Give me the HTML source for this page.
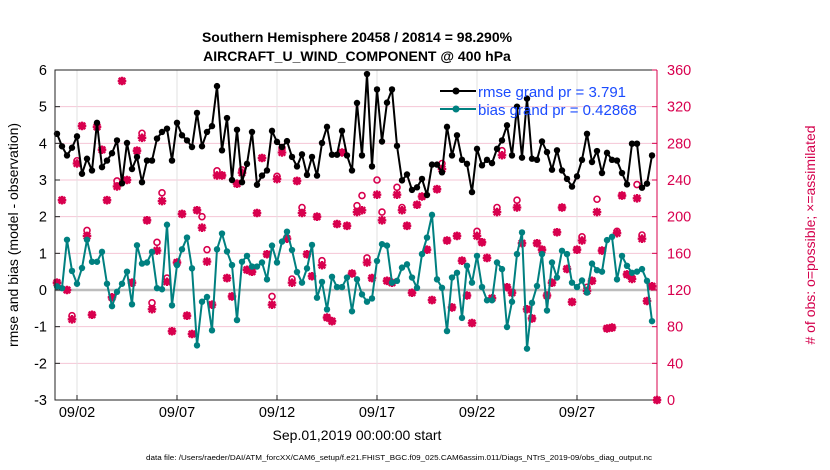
<!DOCTYPE html>
<html><head><meta charset="utf-8"><style>
html,body{margin:0;padding:0;background:#fff;}
svg{display:block;font-family:"Liberation Sans",sans-serif;}
</style></head><body>
<svg id="chart" width="830" height="470" viewBox="0 0 830 470" xmlns="http://www.w3.org/2000/svg">
<text x="357" y="42" text-anchor="middle" font-size="14" font-weight="bold">Southern Hemisphere 20458 / 20814 = 98.290%</text>
<text x="357" y="61" text-anchor="middle" font-size="14" font-weight="bold">AIRCRAFT_U_WIND_COMPONENT @ 400 hPa</text>
<g id="grid"></g>
<g id="marks"></g>
<g id="axes"></g>
<text transform="translate(18,235) rotate(-90)" text-anchor="middle" font-size="14">rmse and bias (model - observation)</text>
<text transform="translate(815,235) rotate(-90)" text-anchor="middle" font-size="14" fill="#d4004c"># of obs: o=possible; ×=assimilated</text>
<text x="357" y="440" text-anchor="middle" font-size="14">Sep.01,2019 00:00:00 start</text>
<text x="146" y="460" font-size="7" textLength="506" lengthAdjust="spacingAndGlyphs">data file: /Users/raeder/DAI/ATM_forcXX/CAM6_setup/f.e21.FHIST_BGC.f09_025.CAM6assim.011/Diags_NTrS_2019-09/obs_diag_output.nc</text>
<g>
<line x1="440" y1="91" x2="476" y2="91" stroke="#000" stroke-width="2"/>
<circle cx="456" cy="91" r="3.5" fill="#000"/>
<text x="478" y="97" font-size="15" fill="#1a4bff">rmse grand pr = 3.791</text>
<line x1="440" y1="109" x2="476" y2="109" stroke="#008080" stroke-width="2"/>
<circle cx="456" cy="109" r="3.5" fill="#008080"/>
<text x="478" y="115" font-size="15" fill="#1a4bff">bias grand pr = 0.42868</text>
</g>
</svg>
<script>
const rmse=[4.26,3.92,3.67,3.88,4.19,3.17,3.58,3.26,4.56,3.35,3.53,3.73,4.08,2.91,4.01,3.30,3.63,2.94,3.53,3.53,4.13,
4.31,4.40,3.53,4.56,4.22,4.08,3.90,4.83,3.92,4.31,4.47,5.56,3.81,4.69,3.00,4.37,2.94,3.44,4.31,2.87,
3.12,3.26,4.34,4.04,3.90,4.06,3.63,3.37,3.70,3.14,3.63,3.12,4.01,4.45,3.69,3.69,4.34,3.67,3.26,5.10,
3.67,5.89,3.37,5.47,4.05,5.11,5.47,3.93,2.99,3.15,2.73,2.80,3.03,2.59,3.42,3.42,3.21,4.45,3.67,4.22,
3.55,3.44,2.67,3.85,3.40,3.55,3.46,3.85,4.08,4.49,3.67,5.0,3.61,5.22,3.58,3.55,4.05,3.76,3.28,3.81,
3.26,3.03,2.82,3.10,3.55,4.26,3.49,3.79,3.19,3.74,3.55,3.53,3.19,2.88,3.99,3.99,2.79,2.90,3.67];
const bias=[0.1,0.05,1.37,0.52,0.17,0.6,1.37,0.77,0.77,1.04,0.17,-0.44,-0.05,0.17,0.5,-0.39,1.22,0.72,0.75,1.04,0.05,
0.02,1.78,-0.42,0.68,1.11,1.43,0.59,-1.51,-0.32,-0.19,-1.10,1.11,1.54,1.05,0.68,-0.82,0.77,0.93,0.64,0.64,
0.75,0.29,1.21,0.75,1.32,1.59,1.09,0.49,0.2,0.59,1.23,-0.21,0.22,-0.53,0.36,0.08,0.08,0.34,-0.58,0.29,
-0.12,-0.32,-0.23,0.79,1.25,1.21,0.2,0.25,0.61,0.70,0.34,0.06,0.98,1.43,2.05,0.29,0.06,-1.12,0.34,0.47,
-0.76,0.66,0.2,0.93,0.08,-0.28,-0.28,0.75,0.57,-1.01,-0.32,0.98,1.57,-1.6,-0.35,0.11,0.98,-0.56,0.75,0.34,
1.07,0.98,0.2,0.08,0.26,-0.07,0.72,0.54,0.5,1.36,1.45,0.29,0.93,0.66,0.47,0.5,0.57,0.25,-0.85];
const nUsed=[128,218,120,88,258,299,179,93,298,273,218,112,233,348,240,128,272,286,196,99,163,
217,129,75,150,203,92,72,207,188,151,104,245,245,133,113,236,248,142,140,204,
264,159,104,241,270,176,128,239,204,159,135,200,147,90,86,192,270,190,138,205,
207,150,133,224,196,130,128,224,207,190,117,213,222,164,109,230,252,174,101,179,
152,114,84,179,172,155,111,205,267,123,117,210,171,99,89,171,164,114,128,183,
210,143,107,164,174,119,130,205,163,78,79,182,223,137,132,220,176,108,124,0];
const nPoss=[128,218,120,92,261,299,185,93,298,273,218,112,239,348,240,128,272,291,196,106,172,
226,133,75,150,203,92,72,207,200,164,104,250,245,133,113,236,251,142,140,204,
264,159,113,244,275,176,132,239,210,159,135,200,152,90,86,192,270,190,138,212,
223,155,133,240,205,130,128,232,210,190,117,213,222,164,109,230,258,174,101,179,
152,114,84,184,172,155,111,210,272,123,117,218,171,99,89,171,164,114,128,183,
210,143,107,164,178,123,130,219,163,78,79,184,223,137,133,235,180,108,124,0];
const leftTicks=[-3,-2,-1,0,1,2,3,4,5,6];
const rightTicks=[0,40,80,120,160,200,240,280,320,360];
const dateTicks=[1,6,11,16,21,26];
const dateLabels=["09/02","09/07","09/12","09/17","09/22","09/27"];
const stepDays=0.25;

const NS="http://www.w3.org/2000/svg";
const L=55,R=657,T=70,B=400;
const xS=d=>57+d*20;
const yL=v=>B-(v+3)/9*(B-T);
const yR=v=>B-v/360*(B-T);
function mk(parent,tag,attrs){const e=document.createElementNS(NS,tag);for(const k in attrs)e.setAttribute(k,attrs[k]);parent.appendChild(e);return e;}
const grid=document.getElementById('grid'),marks=document.getElementById('marks'),axes=document.getElementById('axes');

leftTicks.forEach(t=>{
  const g=mk(grid,'line',{x1:L,x2:R,y1:yL(t),y2:yL(t),stroke:'#f5c6d6','stroke-width':1});
  
  
});
dateTicks.forEach(d=>{
  const g=mk(grid,'line',{x1:xS(d),x2:xS(d),y1:T,y2:B,stroke:'#e2e2e2','stroke-width':1});
  
  
});
const z=mk(grid,'line',{x1:L,x2:R,y1:yL(0),y2:yL(0),stroke:'#bdbdbd','stroke-width':2.5});



const mag='#d8004e';
nPoss.forEach((v,i)=>{
  const c=mk(marks,'circle',{cx:xS(i*stepDays),cy:yR(v),r:3,fill:'none',stroke:mag,'stroke-width':1.6});
  
  
});
nUsed.forEach((v,i)=>{
  const x=xS(i*stepDays),y=yR(v),s=4.3;
  const p=mk(marks,'path',{d:`M${x-s},${y}H${x+s}M${x},${y-s}V${y+s}M${x-s*0.75},${y-s*0.75}L${x+s*0.75},${y+s*0.75}M${x-s*0.75},${y+s*0.75}L${x+s*0.75},${y-s*0.75}`,stroke:mag,'stroke-width':2.3});
  
  
});
function series(arr,color,name){
  const pl=mk(marks,'polyline',{points:arr.map((v,i)=>xS(i*stepDays)+','+yL(v)).join(' '),fill:'none',stroke:color,'stroke-width':2,'stroke-linejoin':'round'});
  
  
  arr.forEach((v,i)=>{
    const c=mk(marks,'circle',{cx:xS(i*stepDays),cy:yL(v),r:3.2,fill:color});
    
    
  });
}
series(rmse,'#000','rmse');
series(bias,'#008080','bias');

const a1=mk(axes,'path',{d:`M${R},${T}H${L}V${B}H${R}`,fill:'none',stroke:'#222','stroke-width':1});


const a2=mk(axes,'line',{x1:R,x2:R,y1:T,y2:B,stroke:mag,'stroke-width':1});


leftTicks.forEach(t=>{
  const tk=mk(axes,'line',{x1:L,x2:L+5,y1:yL(t),y2:yL(t),stroke:'#222'});
  
  
  const tx=mk(axes,'text',{x:L-8,y:yL(t)+5,'text-anchor':'end','font-size':14.5});
  tx.textContent=t;
  
  
});
rightTicks.forEach(t=>{
  const tk=mk(axes,'line',{x1:R-5,x2:R,y1:yR(t),y2:yR(t),stroke:mag});
  
  
  const tx=mk(axes,'text',{x:R+10,y:yR(t)+5,'font-size':14.5,fill:mag});
  tx.textContent=t;
  
  
});
dateTicks.forEach((d,i)=>{
  const tk=mk(axes,'line',{x1:xS(d),x2:xS(d),y1:B,y2:B-5,stroke:'#222'});
  
  
  const tx=mk(axes,'text',{x:xS(d),y:B+17,'text-anchor':'middle','font-size':14.5});
  tx.textContent=dateLabels[i];
  
  
});
</script>
</body></html>
